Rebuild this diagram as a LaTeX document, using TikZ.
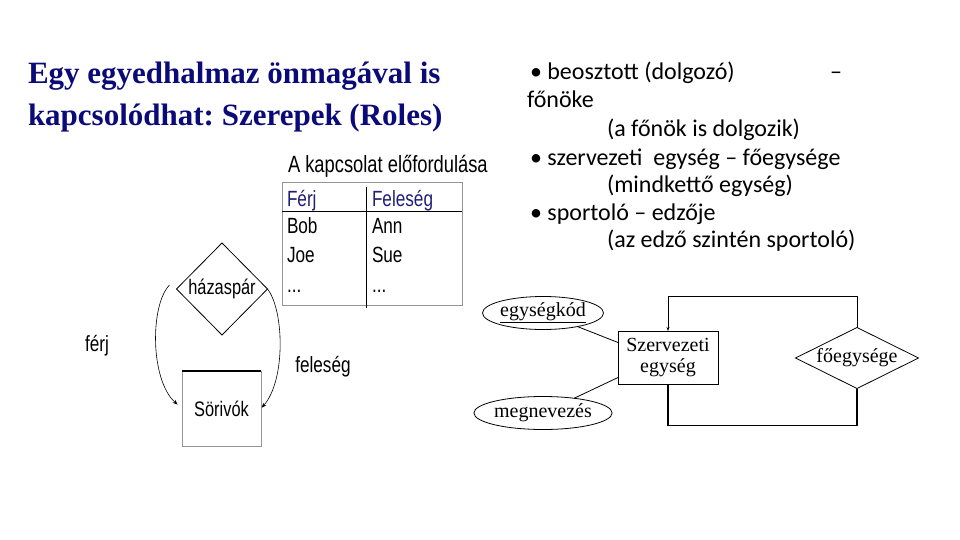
\documentclass[tikz,border=0pt]{standalone}
\usepackage{fontspec}
\setmainfont{Liberation Serif}
\newfontfamily\bodyfont{Carlito}
\newfontfamily\narrowfont{Liberation Sans}[FakeStretch=0.78]
\usepackage{tikz}
\usetikzlibrary{shapes.geometric,arrows.meta,positioning}
\usepackage{xcolor}
\definecolor{titleblue}{RGB}{10,10,120}
\definecolor{headblue}{RGB}{30,30,120}
\definecolor{framegray}{RGB}{150,150,150}
\frenchspacing

\begin{document}
\begin{tikzpicture}[
    x=1pt, y=-1pt,
    line width=0.8pt,
    every node/.style={inner sep=0pt, outer sep=0pt},
    title/.style={font=\fontsize{31}{42}\selectfont\bfseries, text=titleblue, anchor=base west},
    bullet/.style={font=\bodyfont\fontsize{24}{28}\selectfont, anchor=base west},
    cell/.style={font=\narrowfont\fontsize{22}{24}\selectfont, anchor=base west},
    role/.style={font=\narrowfont\fontsize{22}{24}\selectfont},
    relation/.style={diamond, draw, aspect=1, font=\narrowfont\fontsize{21}{24}\selectfont},
    entity/.style={rectangle, draw, font=\fontsize{20}{21}\selectfont, align=center},
    attrib/.style={ellipse, draw, font=\fontsize{20}{24}\selectfont, minimum width=110pt, minimum height=33pt},
    arc/.style={-{Stealth[length=5pt,width=4pt]}, line width=0.6pt}
]
    \useasboundingbox (0,0) rectangle (960,540);

    % Title
    \node[title] (t1) at (28,84) {Egy egyedhalmaz önmagával is};
    \node[title] (t2) at (28,126) {kapcsolódhat: Szerepek (Roles)};

    % Examples
    \node[bullet] (b1) at (530,80) {• beosztott (dolgozó)};
    \node[bullet] (dash) at (830,80) {–};
    \node[bullet] (b1x) at (527,108) {főnöke};
    \node[bullet] (b1y) at (607,137) {(a főnök is dolgozik)};
    \node[bullet] (b2) at (530,165) {• szervezeti\ \ egység – főegysége};
    \node[bullet] (b2y) at (607,192) {(mindkettő egység)};
    \node[bullet] (b3) at (530,220) {• sportoló – edzője};
    \node[bullet] (b3y) at (607,247) {(az edző szintén sportoló)};

    % Table
    \node[cell, font=\narrowfont\fontsize{23.5}{24}\selectfont] (tcap) at (288,172) {A kapcsolat előfordulása};
    \draw[framegray] (282,182) rectangle (462,305);
    \draw (282,211) -- (462,211);
    \draw (366,187) -- (366,308);
    \node[cell, text=headblue] (hferj) at (287,206) {Férj};
    \node[cell, text=headblue] (hfel) at (372,206) {Feleség};
    \node[cell] (bob) at (287,233) {Bob};
    \node[cell] (ann) at (372,233) {Ann};
    \node[cell] (joe) at (287,262) {Joe};
    \node[cell] (sue) at (372,262) {Sue};
    \node[cell] (dots1) at (287,292) {...};
    \node[cell] (dots2) at (372,292) {...};

    % Roles
    \node[relation, minimum width=91pt, minimum height=92pt] (haz) at (222,289) {házaspár};
    \node[draw=framegray, minimum width=79pt, minimum height=75pt,
          font=\narrowfont\fontsize{21}{24}\selectfont] (sor) at (221.5,408.5) {Sörivók};
    \draw[line width=1.4pt] (sor.north west) -- (sor.north east);
    \draw[arc, shorten >=6pt] ([shift={(-7,-4)}]haz.west) .. controls (150,305) and (150,380) .. (sor.west);
    \draw[arc, shorten >=1pt] (haz.east) .. controls (284,310) and (286,380) .. (sor.east);
    \node[role] (ferj) at (97,346) {férj};
    \node[role] (feleseg) at (323,367) {feleség};

    % Recursive relationship
    \node[entity, minimum width=100pt, minimum height=53pt] (szerv) at (668,357.5) {Szervezeti\\egység};
    \node[attrib] (kod) at (543,313) {\underline{egységkód}};
    \node[attrib] (nev) at (543,413) {megnevezés};
    \node[diamond, draw, aspect=2, minimum width=123pt, minimum height=61pt,
          font=\fontsize{20}{24}\selectfont] (foe) at (857,358) {főegysége};

    \draw (kod) -- ([yshift=15pt]szerv.west);
    \draw (nev) -- ([yshift=-20pt]szerv.west);
    \draw[-{Stealth[length=4pt,width=3pt]}] (foe.north) -- ++(0,-31) -| (szerv.north);
    \draw[line width=1.3pt] (foe.south) -- ++(0,37) -| (szerv.south);
\end{tikzpicture}
\end{document}
